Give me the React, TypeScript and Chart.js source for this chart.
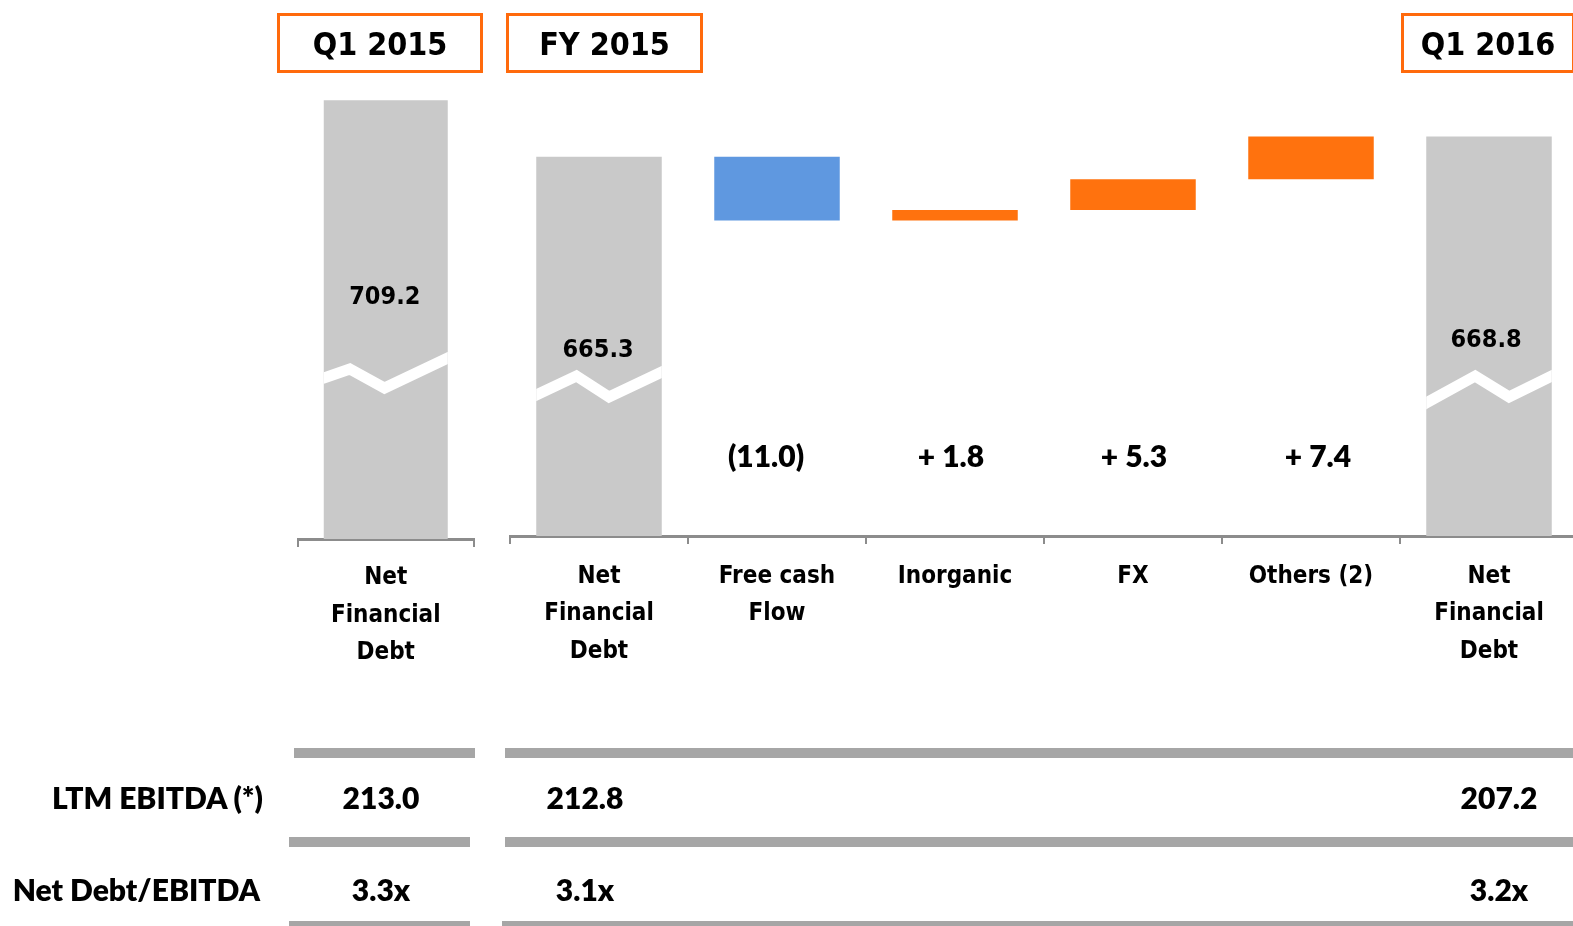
import React, { useEffect, useRef } from "react";
import { Chart, registerables } from "chart.js";

Chart.register(...registerables);

// ---------- data ----------
const periodLabels = ["Q1 2015", "FY 2015", "Q1 2016"];
const openingCategories = [["Net", "Financial", "Debt"]];
const openingDebt = [709.2];
const bridgeCategories = [
  ["Net", "Financial", "Debt"],
  ["Free cash", "Flow"],
  ["Inorganic"],
  ["FX"],
  ["Others (2)"],
  ["Net", "Financial", "Debt"],
];
const startDebt = 665.3;
const bridgeDeltas = [-11.0, 1.8, 5.3, 7.4];
const endDebt = 668.8;
const tableRowLabels = ["LTM EBITDA (*)", "Net Debt/EBITDA"];
const ltmEbitda = [213.0, 212.8, 207.2];
const netDebtToEbitda = [3.3, 3.1, 3.2];

// ---------- style / layout ----------
const W = 1580;
const H = 926;
const GRAY = "#C9C9C9";
const BLUE = "#5F98E0";
const ORANGE = "#FF720E";
const BOX_ORANGE = "#FF6A0C";
const AXIS = "#8C8C8C";
const TABLE_LINE = "#A6A6A6";
const TAHOMA = '"DejaVu Sans Condensed", "DejaVu Sans", sans-serif';
const CALIBRI = 'Lato, "Open Sans", sans-serif';
const CAL_WEIGHT = 800;
const TABLE_SIZE = 30;
const XH = 150; // forced x-axis height

// chart 1 geometry
const C1 = { left: 298, right: 473.5, bottom: 539, min: 599.5, max: 720, k: 4 };
// chart 2 geometry
const C2 = { left: 510, right: 1578, bottom: 536, min: 599.9, max: 680, k: 5.8 };

const bridgeBars: (number | [number, number])[] = [];
const bridgeColors: string[] = [];
bridgeBars.push(startDebt);
bridgeColors.push(GRAY);
{
  let level = startDebt;
  for (const d of bridgeDeltas) {
    const next = Math.round((level + d) * 10) / 10;
    bridgeBars.push([Math.min(level, next), Math.max(level, next)]);
    bridgeColors.push(d < 0 ? BLUE : ORANGE);
    level = next;
  }
}
bridgeBars.push(endDebt);
bridgeColors.push(GRAY);

const fmtDelta = (v: number) => (v < 0 ? `(${Math.abs(v).toFixed(1)})` : `+ ${v.toFixed(1)}`);

type Zig = { index: number; pts: [number, number][] };
type LabelSpec = { index: number; text: string; y: number; dx: number; font: string };

function decorPlugin(zigs: Zig[], labels: LabelSpec[]) {
  return {
    id: "decor",
    afterDatasetsDraw(chart: any) {
      const ctx = chart.ctx as CanvasRenderingContext2D;
      const meta = chart.getDatasetMeta(0);
      for (const z of zigs) {
        const el = meta.data[z.index];
        const left = el.x - el.width / 2;
        const top = Math.min(el.y, el.base);
        const h = Math.abs(el.base - el.y);
        const pts = z.pts.map(([fx, y]) => [left + fx * el.width, y]);
        const [a, b] = [pts[0], pts[1]];
        const s0 = (b[1] - a[1]) / (b[0] - a[0]);
        const n = pts.length;
        const [c, d] = [pts[n - 2], pts[n - 1]];
        const s1 = (d[1] - c[1]) / (d[0] - c[0]);
        const all = [[a[0] - 12, a[1] - 12 * s0], ...pts, [d[0] + 12, d[1] + 12 * s1]];
        ctx.save();
        ctx.beginPath();
        ctx.rect(left, top, el.width, h);
        ctx.clip();
        ctx.beginPath();
        all.forEach(([x, y], i) => (i ? ctx.lineTo(x, y) : ctx.moveTo(x, y)));
        ctx.strokeStyle = "#FFFFFF";
        ctx.lineWidth = 11;
        ctx.lineJoin = "miter";
        ctx.stroke();
        ctx.restore();
      }
      ctx.save();
      ctx.fillStyle = "#000";
      ctx.textAlign = "center";
      ctx.textBaseline = "middle";
      for (const l of labels) {
        const el = meta.data[l.index];
        ctx.font = l.font;
        ctx.fillText(l.text, el.x + l.dx, l.y);
      }
      ctx.restore();
    },
  };
}

function xScale(pad: number) {
  return {
    type: "category",
    offset: true,
    grid: {
      display: true,
      drawOnChartArea: false,
      drawTicks: true,
      tickLength: 8,
      color: AXIS,
      lineWidth: 2,
    },
    border: { display: true, color: AXIS, width: 3 },
    ticks: {
      color: "#000",
      padding: pad,
      autoSkip: false,
      maxRotation: 0,
      minRotation: 0,
      font: { family: TAHOMA, size: 24, weight: "bold", lineHeight: 37.5 / 24 },
    },
    afterFit: (s: any) => {
      s.height = XH;
    },
  };
}

function makeConfig(
  g: typeof C1,
  labels: any[],
  data: any[],
  colors: string[],
  barPct: number,
  tickPad: number,
  plugin: any
) {
  const top = g.bottom - (g.max - g.min) * g.k;
  return {
    type: "bar",
    data: {
      labels,
      datasets: [
        {
          data,
          backgroundColor: colors,
          borderWidth: 0,
          barPercentage: barPct,
          categoryPercentage: 1,
        },
      ],
    },
    options: {
      responsive: false,
      animation: false,
      devicePixelRatio: 1,
      layout: {
        padding: { left: g.left, right: W - g.right, top, bottom: H - g.bottom - XH },
      },
      plugins: { legend: { display: false }, tooltip: { enabled: false }, title: { display: false } },
      scales: {
        x: xScale(tickPad),
        y: { display: false, min: g.min, max: g.max },
      },
    },
    plugins: [plugin],
  } as any;
}

const TOTAL_FONT = `bold 25px ${TAHOMA}`;
const DELTA_FONT = `${CAL_WEIGHT} 30px ${CALIBRI}`;
const DELTA_DX = [-11, -4, 1, 7];

export default function App() {
  const c1 = useRef<HTMLCanvasElement>(null);
  const c2 = useRef<HTMLCanvasElement>(null);

  useEffect(() => {
    document.body.style.margin = "0";
    const p1 = decorPlugin(
      [{ index: 0, pts: [[0, 378], [0.21, 369], [0.49, 388], [1, 358]] }],
      [{ index: 0, text: openingDebt[0].toFixed(1), y: 297, dx: -1, font: TOTAL_FONT }]
    );
    const last = bridgeBars.length - 1;
    const p2 = decorPlugin(
      [
        { index: 0, pts: [[0, 395], [0.32, 376], [0.58, 397], [1, 372]] },
        { index: last, pts: [[0, 403], [0.39, 376], [0.66, 397], [1, 376]] },
      ],
      [
        { index: 0, text: startDebt.toFixed(1), y: 350, dx: -1, font: TOTAL_FONT },
        { index: last, text: endDebt.toFixed(1), y: 340, dx: -3, font: TOTAL_FONT },
        ...bridgeDeltas.map((d, i) => ({
          index: i + 1,
          text: fmtDelta(d),
          y: 457,
          dx: DELTA_DX[i],
          font: DELTA_FONT,
        })),
      ]
    );
    const ch1 = new Chart(
      c1.current!,
      makeConfig(C1, openingCategories, openingDebt, [GRAY], 124 / 175.5, 12.5, p1)
    );
    const ch2 = new Chart(
      c2.current!,
      makeConfig(C2, bridgeCategories, bridgeBars, bridgeColors, 125.5 / 178, 14, p2)
    );
    return () => {
      ch1.destroy();
      ch2.destroy();
    };
  }, []);

  const boxes = [
    { left: 277, width: 206 },
    { left: 506, width: 197 },
    { left: 1401, width: 174 },
  ];
  const tableCols = [381, 585, 1499];
  const line = (left: number, top: number, width: number, height: number, key: string) => (
    <div
      key={key}
      style={{ position: "absolute", left, top, width, height, background: TABLE_LINE }}
    />
  );
  const cell = (text: string, cx: number, cy: number, key: string) => (
    <div
      key={key}
      style={{
        position: "absolute",
        left: cx - 100,
        top: cy - 20,
        width: 200,
        height: 40,
        lineHeight: "40px",
        textAlign: "center",
        fontFamily: CALIBRI,
        fontWeight: CAL_WEIGHT,
        fontSize: TABLE_SIZE,
        color: "#000",
      }}
    >
      {text}
    </div>
  );
  const rowLabel = (text: string, right: number, cy: number, key: string) => (
    <div
      key={key}
      style={{
        position: "absolute",
        left: 0,
        top: cy - 20,
        width: right,
        height: 40,
        lineHeight: "40px",
        textAlign: "right",
        fontFamily: CALIBRI,
        fontWeight: CAL_WEIGHT,
        fontSize: TABLE_SIZE,
        color: "#000",
        whiteSpace: "nowrap",
      }}
    >
      {text}
    </div>
  );

  return (
    <div
      style={{
        position: "absolute",
        left: 0,
        top: 0,
        width: 1573,
        height: 926,
        overflow: "hidden",
        background: "#fff",
      }}
    >
      <canvas ref={c1} width={W} height={H} style={{ position: "absolute", left: 0, top: 0 }} />
      <canvas ref={c2} width={W} height={H} style={{ position: "absolute", left: 0, top: 0 }} />
      {periodLabels.map((p, i) => (
        <div
          key={p}
          style={{
            position: "absolute",
            left: boxes[i].left,
            top: 13,
            width: boxes[i].width,
            height: 60,
            boxSizing: "border-box",
            border: `3px solid ${BOX_ORANGE}`,
            display: "flex",
            alignItems: "center",
            justifyContent: "center",
            fontFamily: TAHOMA,
            fontWeight: "bold",
            fontSize: 32,
            color: "#000",
            paddingTop: 2,
          }}
        >
          {p}
        </div>
      ))}
      {line(294, 748, 181, 10, "l1a")}
      {line(505, 748, 1068, 10, "l1b")}
      {line(289, 837, 181, 10, "l2a")}
      {line(505, 837, 1068, 10, "l2b")}
      {line(289, 921, 181, 10, "l3a")}
      {line(502, 921, 1071, 10, "l3b")}
      {rowLabel(tableRowLabels[0], 263, 797, "r0")}
      {rowLabel(tableRowLabels[1], 260, 889, "r1")}
      {ltmEbitda.map((v, i) => cell(v.toFixed(1), tableCols[i], 797, "e" + i))}
      {netDebtToEbitda.map((v, i) => cell(v.toFixed(1) + "x", tableCols[i], 889, "n" + i))}
    </div>
  );
}
